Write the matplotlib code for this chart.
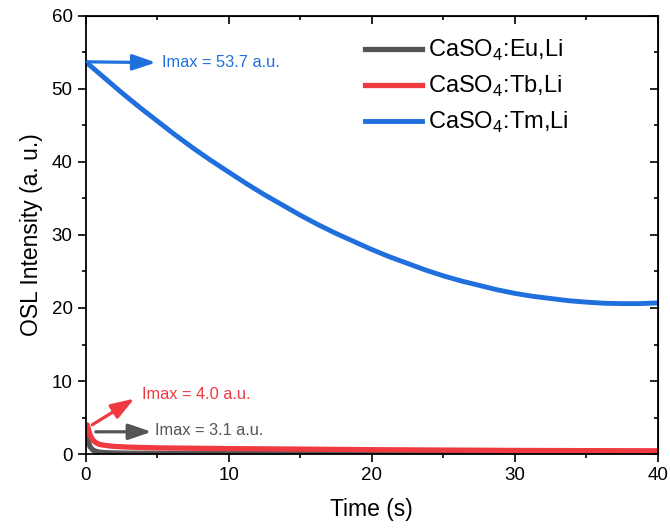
import numpy as np
import matplotlib.pyplot as plt

plt.rcParams['font.family'] = ['Liberation Sans', 'DejaVu Sans']
plt.rcParams['mathtext.fontset'] = 'custom'
plt.rcParams['mathtext.rm'] = 'Liberation Sans'

# OSL decay curves
t_eu = [0, 0.1, 0.2, 0.3, 0.5, 0.75, 1, 1.5, 2, 3, 5, 10, 20, 30, 40]
i_eu = [3.1, 2.5, 1.6, 1.0, 0.55, 0.35, 0.25, 0.18, 0.15, 0.12, 0.1, 0.08, 0.07, 0.06, 0.06]

t_tb = [0, 0.1, 0.2, 0.3, 0.5, 0.75, 1, 1.5, 2, 3, 5, 7.5, 10, 15, 20, 25, 30, 35, 40]
i_tb = [3.2, 4.0, 3.3, 2.6, 1.9, 1.5, 1.3, 1.15, 1.05, 0.95, 0.85, 0.8, 0.75, 0.68, 0.6, 0.55, 0.5, 0.47, 0.45]

t_tm = [0, 1.25, 2.5, 3.75, 5, 6.25, 7.5, 8.75, 10, 11.25, 12.5, 13.75, 15, 16.25, 17.5,
        18.75, 20, 21.25, 22.5, 23.75, 25, 26.25, 27.5, 28.75, 30, 31.25, 32.5, 33.75,
        35, 36.25, 37.5, 38.75, 40]
i_tm = [53.7, 51.6, 49.5, 47.5, 45.6, 43.7, 41.9, 40.2, 38.6, 37.0, 35.5, 34.1, 32.7, 31.4, 30.2,
        29.1, 28.0, 27.0, 26.1, 25.2, 24.4, 23.7, 23.1, 22.5, 22.0, 21.6, 21.3, 21.0,
        20.8, 20.65, 20.6, 20.6, 20.7]

labels = ['CaSO$_4$:Eu,Li', 'CaSO$_4$:Tb,Li', 'CaSO$_4$:Tm,Li']
colors = ['#555555', '#ee3a40', '#1f6fdc']

fig = plt.figure(figsize=(6.7, 5.28), dpi=100)
ax = fig.add_axes([0.128, 0.140, 0.854, 0.830])

ax.plot(t_eu, i_eu, color=colors[0], lw=3.8, label=labels[0])
ax.plot(t_tb, i_tb, color=colors[1], lw=3.8, label=labels[1])
ax.plot(t_tm, i_tm, color=colors[2], lw=3.5, label=labels[2], solid_joinstyle='round')

ax.set_xlim(0, 40)
ax.set_ylim(0, 60)
ax.set_xticks([0, 10, 20, 30, 40])
ax.set_yticks([0, 10, 20, 30, 40, 50, 60])
ax.set_xticks(np.arange(5, 40, 10), minor=True)
ax.set_yticks(np.arange(5, 60, 10), minor=True)
ax.tick_params(which='major', direction='out', length=6, width=1.2, labelsize=13.5)
ax.tick_params(which='minor', direction='out', length=3, width=1.2)
for s in ax.spines.values():
    s.set_linewidth(1.3)

# mirrored inward ticks on top and right
top = ax.secondary_xaxis('top')
top.set_xticks([0, 10, 20, 30, 40])
top.set_xticks(np.arange(5, 40, 10), minor=True)
top.tick_params(which='major', direction='in', length=6, width=1.2, labeltop=False)
top.tick_params(which='minor', direction='in', length=3, width=1.2)
right = ax.secondary_yaxis('right')
right.set_yticks([0, 10, 20, 30, 40, 50, 60])
right.set_yticks(np.arange(5, 60, 10), minor=True)
right.tick_params(which='major', direction='in', length=6, width=1.2, labelright=False)
right.tick_params(which='minor', direction='in', length=3, width=1.2)

ax.set_xlabel('Time (s)', fontsize=16.5, labelpad=10)
ax.set_ylabel('OSL Intensity (a. u.)', fontsize=16.5, labelpad=6)

# Imax annotations
arrow = dict(arrowstyle='-|>,head_length=0.7,head_width=0.24', lw=2.3,
             mutation_scale=20, shrinkA=0, shrinkB=0)
ax.annotate('', xy=(4.9, 53.6), xytext=(0.1, 53.7),
            arrowprops=dict(arrow, color=colors[2]))
ax.text(5.3, 53.6, 'Imax = 53.7 a.u.', color=colors[2], fontsize=11.8, va='center')
ax.annotate('', xy=(3.4, 7.6), xytext=(0.45, 4.0),
            arrowprops=dict(arrow, color=colors[1]))
ax.text(3.9, 8.1, 'Imax = 4.0 a.u.', color=colors[1], fontsize=11.8, va='center')
ax.annotate('', xy=(4.6, 3.05), xytext=(0.7, 3.05),
            arrowprops=dict(arrow, color=colors[0]))
ax.text(4.85, 3.2, 'Imax = 3.1 a.u.', color=colors[0], fontsize=11.8, va='center')

ax.legend(loc='upper left', bbox_to_anchor=(0.488, 0.949), frameon=False, fontsize=17,
          handlelength=2.4, handletextpad=0.25, labelspacing=0.45,
          borderaxespad=0, borderpad=0)

fig.savefig('out.png', dpi=100)
